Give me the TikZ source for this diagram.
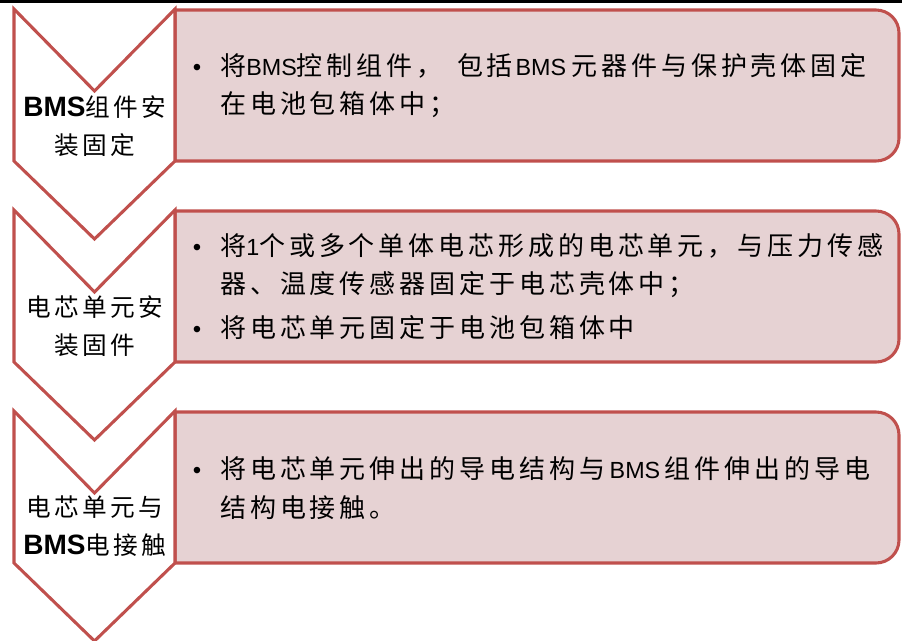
\documentclass[tikz,border=0pt]{standalone}
\usepackage{fontspec}
\setmainfont{Liberation Sans}
\newfontfamily\zhbox[LetterSpace=15]{Noto Sans CJK SC}
\newfontfamily\zhttl[LetterSpace=14]{Noto Sans CJK SC}
\newfontfamily\lat{Liberation Sans}
\definecolor{bred}{RGB}{192,80,77}
\definecolor{bpink}{RGB}{230,210,211}
\newcommand{\lbms}{{\lat\fontsize{17.5pt}{17.5pt}\selectfont BMS}}
\newcommand{\lone}{{\lat\fontsize{17.5pt}{17.5pt}\selectfont 1}}
\newcommand{\tbms}{{\lat\bfseries\fontsize{21pt}{21pt}\selectfont BMS}}
\begin{document}
\begin{tikzpicture}[x=0.75pt,y=-0.75pt,
  chev/.style={draw=bred, line width=2.3pt, fill=white, line join=miter},
  pbox/.style={draw=bred, line width=2.3pt, fill=bpink},
  btxt/.style={anchor=base west, inner sep=0pt, font=\zhbox\fontsize{19.5pt}{19.5pt}\selectfont},
  bul/.style={anchor=base, inner sep=0pt, font=\lat\fontsize{18pt}{18pt}\selectfont},
  ttl/.style={anchor=base, inner sep=0pt, font=\zhttl\fontsize{18.5pt}{18.5pt}\selectfont}]
\useasboundingbox (0,0) rectangle (902,640);
\fill[black] (0,0) rectangle (902,2.5);
% boxes
\foreach \t/\n in {10/1,211/2,412/3}{
  \draw[pbox] (175,\t) -- (876,\t) .. controls (888.7,\t) and (899,\t+10.3) .. (899,\t+23)
    -- (899,\t+128) .. controls (899,\t+140.7) and (888.7,\t+151) .. (876,\t+151) -- (175,\t+151) -- cycle;
}
% chevrons
\foreach \t in {9,210,411}{
  \draw[chev] (14,\t) -- (94.5,\t+82) -- (175,\t) -- (175,\t+152) -- (94.5,\t+230) -- (14,\t+152) -- cycle;
}
% titles
\node[ttl] (t1a) at (95,116) {\tbms 组件安};
\node[ttl] (t1b) at (95,154) {装固定};
\node[ttl] (t2a) at (95,316) {电芯单元安};
\node[ttl] (t2b) at (95,354) {装固件};
\node[ttl] (t3a) at (95,516) {电芯单元与};
\node[ttl] (t3b) at (95,554) {\tbms 电接触};
% box 1
\node[bul] (b1) at (197,75) {•};
\node[btxt] (l1a) at (220,75) {将\lbms 控制组件，\hspace{11pt}包括\hspace{2pt}\lbms\hspace{4pt}元器件与保护壳体固定};
\node[btxt] (l1b) at (220,113) {在电池包箱体中；};
% box 2
\node[bul] (b2) at (197,255) {•};
\node[btxt] (l2a) at (220,255) {将\lone 个或多个单体电芯形成的电芯单元，与压力传感};
\node[btxt] (l2b) at (220,293) {器、温度传感器固定于电芯壳体中；};
\node[bul] (b3) at (197,337) {•};
\node[btxt] (l2c) at (220,337) {将电芯单元固定于电池包箱体中};
% box 3
\node[bul] (b4) at (197,478) {•};
\node[btxt] (l3a) at (220,478) {将电芯单元伸出的导电结构与\hspace{3.5pt}\lbms\hspace{3.5pt}组件伸出的导电};
\node[btxt] (l3b) at (220,517) {结构电接触。};
\end{tikzpicture}
\end{document}
